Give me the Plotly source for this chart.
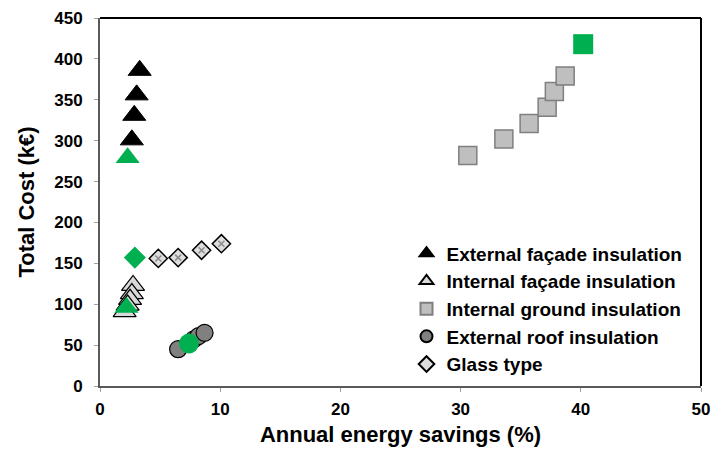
import plotly.graph_objects as go

# Refurbishment options: annual energy savings (%) vs total cost (k€)
ext_facade_x = [3.3, 3.05, 2.85, 2.65]
ext_facade_y = [386, 356, 331, 301]

int_facade_x = [2.75, 2.65, 2.5, 2.3, 2.05]
int_facade_y = [123, 113, 106, 99, 91]

int_ground_x = [30.6, 33.6, 35.7, 37.2, 37.8, 38.7]
int_ground_y = [282, 302, 321, 341, 360, 379]

ext_roof_x = [6.5, 7.8, 8.2, 8.7]
ext_roof_y = [45, 57, 61, 65]

glass_x = [4.85, 6.5, 8.45, 10.1]
glass_y = [156, 157, 166, 174]

# Highlighted option of each measure (green)
best_x = [2.3, 2.2, 40.2, 7.4, 2.9]
best_y = [279, 96, 418, 52, 157]
best_symbol = ["triangle-up", "triangle-up", "square", "circle", "diamond"]
best_size = [21, 21, 20, 20, 17]

GREEN = "#00B050"
FONT = "Liberation Sans, Arial, sans-serif"

fig = go.Figure()

fig.add_trace(go.Scatter(
    x=int_facade_x, y=int_facade_y, mode="markers", name="Internal façade insulation",
    marker=dict(symbol="triangle-up", size=20, color="#D9D9D9",
                line=dict(color="#000000", width=1.2))))
fig.add_trace(go.Scatter(
    x=ext_facade_x, y=ext_facade_y, mode="markers", name="External façade insulation",
    marker=dict(symbol="triangle-up", size=20, color="#000000",
                line=dict(color="#000000", width=1))))
fig.add_trace(go.Scatter(
    x=int_ground_x, y=int_ground_y, mode="markers", name="Internal ground insulation",
    marker=dict(symbol="square", size=18, color="#BFBFBF",
                line=dict(color="#7F7F7F", width=1.5))))
fig.add_trace(go.Scatter(
    x=ext_roof_x, y=ext_roof_y, mode="markers", name="External roof insulation",
    marker=dict(symbol="circle", size=17, color="#808080",
                line=dict(color="#000000", width=1.2))))
fig.add_trace(go.Scatter(
    x=glass_x, y=glass_y, mode="markers", name="Glass type",
    marker=dict(symbol="diamond", size=14, color="#DEDEDE",
                line=dict(color="#000000", width=1.5))))
# dotted texture inside the glass-type diamonds
fig.add_trace(go.Scatter(
    x=glass_x, y=glass_y, mode="markers", showlegend=False, hoverinfo="skip",
    marker=dict(symbol="x-thin", size=6, color="#8C8C8C",
                line=dict(color="#8C8C8C", width=1.5))))
fig.add_trace(go.Scatter(
    x=best_x, y=best_y, mode="markers", showlegend=False,
    marker=dict(symbol=best_symbol, size=best_size, color=GREEN, opacity=1,
                line=dict(color=GREEN, width=0))))

# legend order as listed in the key
order = ["External façade insulation", "Internal façade insulation",
         "Internal ground insulation", "External roof insulation", "Glass type"]
for tr in fig.data:
    if tr.name in order:
        tr.legendrank = order.index(tr.name) + 1

axis_common = dict(
    showgrid=False, zeroline=False, showline=True, linecolor="#595959", linewidth=2,
    ticks="outside", ticklen=4, tickcolor="#A0A0A0", tickwidth=1,
    tickfont=dict(family=FONT, size=17, color="#000000", weight="bold"),
    mirror=False, automargin=False,
)

fig.update_layout(
    width=711, height=455,
    margin=dict(l=100, r=10, t=18, b=69),
    paper_bgcolor="white", plot_bgcolor="white",
    font=dict(family=FONT, color="#000000"),
    xaxis=dict(range=[0, 50], dtick=10, ticklabelstandoff=3, **axis_common,
               title=dict(text="Annual energy savings (%)", standoff=8,
                          font=dict(family=FONT, size=22, weight="bold"))),
    yaxis=dict(range=[0, 450], dtick=50, ticklabelstandoff=8, **axis_common,
               title=dict(text="Total Cost (k€)", standoff=14,
                          font=dict(family=FONT, size=22, weight="bold"))),
    legend=dict(x=0.51, y=0.412, xanchor="left", yanchor="top",
                font=dict(family=FONT, size=19, weight="bold"),
                itemsizing="constant", itemwidth=30, tracegroupgap=0,
                bgcolor="rgba(0,0,0,0)"),
    shapes=[
        dict(type="line", xref="paper", yref="paper", x0=0, x1=1, y0=1, y1=1,
             line=dict(color="#000000", width=2)),
        dict(type="line", xref="paper", yref="paper", x0=1, x1=1, y0=0, y1=1,
             line=dict(color="#000000", width=2)),
    ],
)

fig.write_html("out.html")
